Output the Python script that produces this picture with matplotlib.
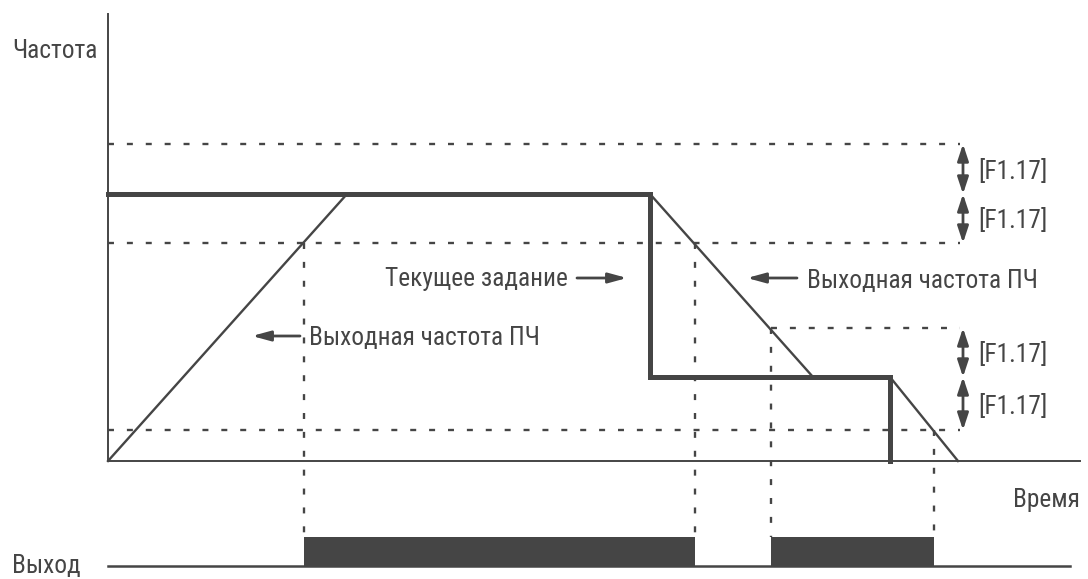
import matplotlib
matplotlib.use("Agg")
import matplotlib.pyplot as plt
from matplotlib import font_manager

# time / frequency in drawing units (t: right of freq axis, f: above time axis)
t_axis_end = 972
f_axis_top = 447

# setpoint (thick) and output frequency (thin)
set_t = [0, 542, 542, 782, 782]
set_f = [267, 267, 84, 84, 0]
out_t = [0, 239, 542, 705, 782, 850]
out_f = [0, 267, 267, 84, 84, 0]

# detection bands +-[F1.17]
band_f = [317, 218, 133, 31]
band_t0 = [0, 0, 663, 0]
band_t1 = 852
band_arrows = [(317, 267), (267, 218), (133, 84), (84, 31)]
band_label = "[F1.17]"

# detection instants and output pulses
detect_t = [196, 587, 663, 826]
detect_f = [218, 218, 133, 31]
pulses = [(196, 587), (663, 826)]
out_base = -105
out_high = -76

ink = "#454545"

# narrow face with cyrillic if available
entries = font_manager.fontManager.ttflist
names = {f.name for f in entries}
stretch = "normal"
if "Liberation Sans Narrow" in names:
    fam = "Liberation Sans Narrow"
elif "Roboto Condensed" in names:
    fam = "Roboto Condensed"
else:
    fam = "DejaVu Sans"
    stretch = "condensed"
plt.rcParams["font.family"] = [fam, "DejaVu Sans"]
plt.rcParams["font.stretch"] = stretch
plt.rcParams["lines.scale_dashes"] = False

fig = plt.figure(figsize=(10.88, 5.79), dpi=100)
ax = fig.add_axes([0, 0, 1, 1])
ax.set_xlim(-108, 980)
ax.set_ylim(-118, 461)
ax.axis("off")

fs = 18.3

# axes
ax.plot([0, 0], [0, f_axis_top], color=ink, lw=1.4)
ax.plot([0, t_axis_end], [0, 0], color=ink, lw=1.4)
ax.plot([0, 962], [out_base, out_base], color=ink, lw=1.8)

# dashed band lines
for f, t0 in zip(band_f, band_t0):
    ax.plot([t0, band_t1], [f, f], color=ink, lw=1.7, dashes=(4.3, 9.3))

# dotted verticals down to the output row
for t, f in zip(detect_t, detect_f):
    ax.plot([t, t], [f, out_high], color=ink, lw=1.7, dashes=(4.3, 9.3))

ax.plot(out_t, out_f, color=ink, lw=1.7, solid_joinstyle="miter")
ax.plot(set_t, set_f, color=ink, lw=3.6, solid_joinstyle="miter")

# output pulses
for a, b in pulses:
    ax.fill_between([a, b], out_base, out_high, color=ink, lw=0)

# band arrows and labels
for hi, lo in band_arrows:
    ax.annotate("", xy=(855, lo), xytext=(855, hi),
                arrowprops=dict(arrowstyle="<|-|>,head_length=1.0,head_width=0.33",
                                color=ink, lw=2.0, shrinkA=0, shrinkB=0))
    ax.text(870, (hi + lo) / 2 - 10, band_label, color=ink, fontsize=fs,
            ha="left", va="baseline")

# callouts
def callout(x_from, x_to, f):
    ax.annotate("", xy=(x_to, f), xytext=(x_from, f),
                arrowprops=dict(arrowstyle="-|>,head_length=1.1,head_width=0.3",
                                color=ink, lw=2.0, shrinkA=0, shrinkB=0))

ax.text(460, 175, "Текущее задание", color=ink, fontsize=fs, ha="right", va="baseline")
callout(469, 519, 183)
ax.text(699, 173, "Выходная частота ПЧ", color=ink, fontsize=fs, ha="left", va="baseline")
callout(689, 639, 183)
ax.text(201, 116, "Выходная частота ПЧ", color=ink, fontsize=fs, ha="left", va="baseline")
callout(192, 144, 125)

ax.text(-96, 403, "Частота", color=ink, fontsize=fs, ha="left", va="baseline")
ax.text(972, -46, "Время", color=ink, fontsize=fs, ha="right", va="baseline")
ax.text(-96, -112, "Выход", color=ink, fontsize=fs, ha="left", va="baseline")

fig.savefig("out.png", dpi=100)
